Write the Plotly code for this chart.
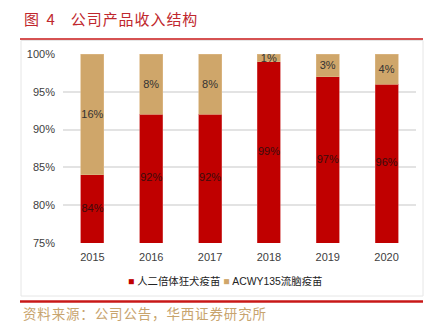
import plotly.graph_objects as go

years = ["2015", "2016", "2017", "2018", "2019", "2020"]
rabies = [84, 92, 92, 99, 97, 96]
acwy = [16, 8, 8, 1, 3, 4]
series_names = ["人二倍体狂犬疫苗", "ACWY135流脑疫苗"]
y_ticks = [75, 80, 85, 90, 95, 100]
y_tick_labels = ["75%", "80%", "85%", "90%", "95%", "100%"]
y_min, y_max = 75, 100

RED = "#C00000"
TAN = "#CFA66A"

W, H = 430, 330
L, R, T, B = 63, 14, 54, 87
pw, ph = W - L - R, H - T - B

def px(x):
    return (x - L) / pw

def py(y):
    return (H - B - y) / ph

fig = go.Figure()
fig.add_trace(go.Bar(
    x=years, y=rabies, name=series_names[0], showlegend=False,
    marker=dict(color=RED, line=dict(width=0.6, color="#D65555")),
    width=0.39,
))
fig.add_trace(go.Bar(
    x=years, y=acwy, name=series_names[1], showlegend=False,
    marker=dict(color=TAN, line=dict(width=0.6, color="#DDBB88")),
    text=[f"{v}%" for v in acwy], textposition="inside", insidetextanchor="middle",
    textangle=0, constraintext="none",
    textfont=dict(color="#333333", size=11, family="Liberation Sans"),
    width=0.39, cliponaxis=False,
))
# labels of the red segments sit in the middle of their visible part
fig.add_trace(go.Scatter(
    x=years, y=[(y_min + v) / 2 for v in rabies], mode="text",
    text=[f"{v}%" for v in rabies], textposition="middle center",
    textfont=dict(color="#3a0c0c", size=11, family="Liberation Sans"),
    showlegend=False, hoverinfo="skip", cliponaxis=False,
))

fig.update_layout(
    barmode="stack",
    width=W, height=H,
    margin=dict(l=L, r=R, t=T, b=B),
    paper_bgcolor="white", plot_bgcolor="white",
    font=dict(family="Liberation Sans", size=11, color="#404040"),
    showlegend=False,
    xaxis=dict(showline=False, ticks="", tickfont=dict(size=11, color="#404040"),
               ticklabelstandoff=6, fixedrange=True),
    yaxis=dict(range=[y_min, y_max], tickvals=y_ticks, ticktext=y_tick_labels,
               showgrid=True, gridcolor="#E3E3E3", gridwidth=1.5, zeroline=False,
               ticks="", ticklen=0, ticklabelstandoff=7,
               tickfont=dict(size=11, color="#404040")),
)

shapes = [
    dict(type="line", xref="paper", yref="paper", x0=px(20), x1=px(423), y0=py(39), y1=py(39),
         line=dict(color="#C81818", width=1.5)),
    dict(type="rect", xref="paper", yref="paper", x0=px(21), x1=px(423), y0=py(296), y1=py(40.5),
         line=dict(color="#E6E6E6", width=1), layer="below"),
    dict(type="line", xref="paper", yref="paper", x0=px(20), x1=px(423), y0=py(301.5), y1=py(301.5),
         line=dict(color="#C81818", width=2.5)),
]
fig.update_layout(shapes=shapes)

hair = "\u200a"
title_text = "图\u20024" + "\u2003" + hair + hair.join("公司产品收入结构")
fig.add_annotation(text=title_text, xref="paper", yref="paper",
                   x=px(22), y=py(18), xanchor="left", yanchor="middle", showarrow=False,
                   font=dict(size=15, color="#C0272D", family="Noto Sans CJK SC"))
fig.add_annotation(text=hair.join("资料来源：公司公告，华西证券研究所"), xref="paper", yref="paper",
                   x=px(21), y=py(313), xanchor="left", yanchor="middle", showarrow=False,
                   font=dict(size=13.5, color="#C8A46E", family="Noto Sans CJK SC"))

legend_text = (f"<span style='color:{RED}'>■</span> {series_names[0]} "
               f"<span style='color:{TAN}'>■</span> {series_names[1]}")
fig.add_annotation(text=legend_text, xref="paper", yref="paper",
                   x=px(225), y=py(281), xanchor="center", yanchor="middle", showarrow=False,
                   font=dict(size=10.4, color="#222222", family="Liberation Sans, Noto Sans CJK SC"))

fig.write_html("out.html")
